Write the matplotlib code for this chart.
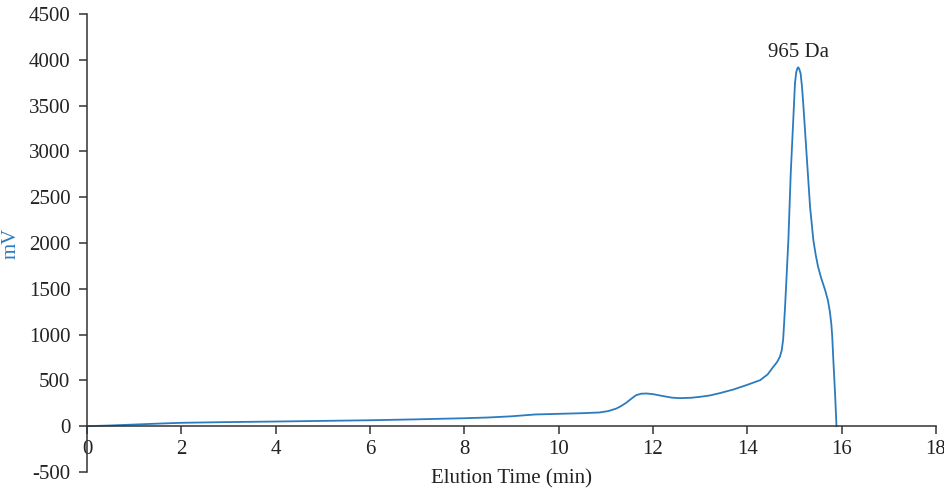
import matplotlib
matplotlib.use("Agg")
import matplotlib.pyplot as plt

# Elution time (min) and detector signal (mV)
time_min = [0, 0.5, 1, 1.5, 2, 3, 4, 5, 6, 7, 8, 8.5, 9, 9.3, 9.5, 10, 10.5,
            10.87, 11.05, 11.22, 11.33, 11.43, 11.54, 11.64, 11.75, 11.86, 12.0,
            12.2, 12.4, 12.56, 12.8, 12.99, 13.2, 13.41, 13.7, 13.98, 14.15,
            14.27, 14.43, 14.55, 14.63, 14.69, 14.73, 14.76, 14.80, 14.87, 14.92,
            14.97, 15.01, 15.035, 15.06, 15.08, 15.10, 15.13, 15.16, 15.19, 15.26,
            15.33, 15.40, 15.45, 15.50, 15.57, 15.65, 15.71, 15.75, 15.78, 15.80,
            15.82, 15.86, 15.89]
signal_mv = [0, 8, 18, 28, 37, 45, 51, 58, 65, 75, 87, 95, 108, 120, 128, 135, 142,
             150, 165, 192, 222, 255, 300, 338, 355, 357, 350,
             330, 312, 306, 310, 320, 335, 360, 400, 448, 480,
             502, 565, 648, 700, 757, 830, 950, 1303, 2030, 2758,
             3305, 3741, 3860, 3905, 3918, 3900, 3850, 3700, 3486, 2940,
             2394, 2030, 1870, 1739, 1610, 1485, 1370, 1250, 1120, 980,
             757, 357, 0]

tick_x = [0, 2, 4, 6, 8, 10, 12, 14, 16, 18]
tick_y = [-500, 0, 500, 1000, 1500, 2000, 2500, 3000, 3500, 4000, 4500]
peak_label = "965 Da"
peak_pos = (15.08, 4075)

line_color = "#2b7bbf"
axis_color = "#333333"

plt.rcParams['font.family'] = ['Liberation Serif', 'DejaVu Serif']
plt.rcParams['font.size'] = 15

fig = plt.figure(figsize=(9.45, 4.88), dpi=100)
ax = fig.add_axes([87 / 945, 16 / 488, (936 - 87) / 945, (472 - 14) / 488])

ax.plot(time_min, signal_mv, color=line_color, lw=1.3)

ax.set_xlim(0, 18)
ax.set_ylim(-500, 4500)
ax.set_xticks(tick_x)
ax.set_yticks(tick_y)
ax.set_xticklabels([str(v) for v in tick_x])
ax.set_yticklabels([str(v) for v in tick_y])

ax.spines['right'].set_visible(False)
ax.spines['top'].set_visible(False)
ax.spines['bottom'].set_position(('data', 0))
for s in ('left', 'bottom'):
    ax.spines[s].set_color(axis_color)
    ax.spines[s].set_linewidth(1.1)
ax.tick_params(axis='both', direction='out', length=6, width=1.1,
               color=axis_color, labelcolor='#222222', labelsize=15)
ax.tick_params(axis='x', pad=4)
ax.tick_params(axis='y', pad=6)

ax.set_xlabel("Elution Time (min)", fontsize=15, color='#222222', labelpad=7)
ax.set_ylabel("mV", fontsize=15, color=line_color, labelpad=6)

ax.text(peak_pos[0], peak_pos[1], peak_label, ha='center', va='center',
        fontsize=15, color='#222222')

fig.savefig("out.png", dpi=100)
